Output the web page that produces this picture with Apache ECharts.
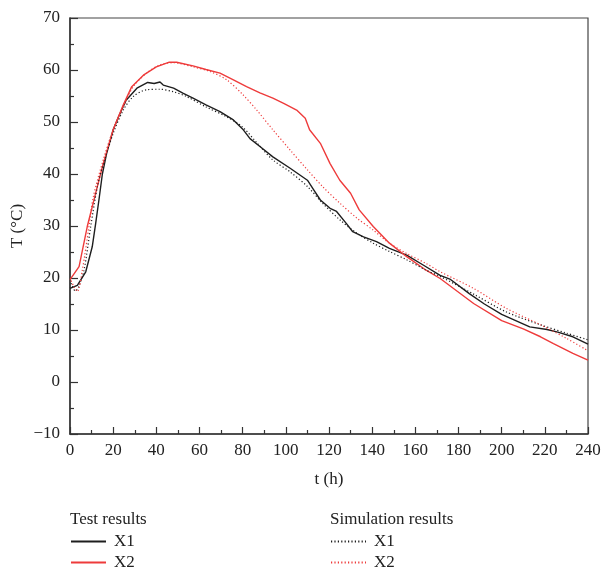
<!DOCTYPE html>
<html>
<head>
<meta charset="utf-8">
<script src="https://cdn.jsdelivr.net/npm/echarts@6/dist/echarts.min.js"></script>
<style>
  html, body { margin: 0; padding: 0; background: #fff; }
  #main { width: 602px; height: 571px; }
</style>
</head>
<body>
<div id="main"></div>
<script>
  // test results X1 (black solid)
  var testX1T = [0, 3.4, 7.3, 10.3, 11.9, 13.4, 15, 17, 20, 22.5, 26, 31, 36, 39, 41.7, 43.2, 48, 52.5, 57, 63, 69.5, 75.7, 80.3, 83.4, 88, 94, 102, 110, 113, 116, 120.5, 123.5, 128, 131, 136, 142, 148, 156, 164, 171.5, 176, 185, 192, 200, 213, 221, 226, 233, 240];
  var testX1 = [18.0, 18.6, 21.2, 26.0, 30.5, 35.0, 40.0, 44.0, 48.5, 51.0, 54.2, 56.5, 57.6, 57.4, 57.7, 57.1, 56.5, 55.5, 54.6, 53.3, 52.0, 50.4, 48.5, 46.8, 45.3, 43.3, 41.1, 38.8, 36.9, 35.0, 33.4, 32.8, 30.5, 28.9, 27.9, 27.0, 25.7, 24.4, 22.4, 20.5, 19.8, 17.0, 15.0, 13.0, 10.6, 10.1, 9.6, 8.7, 7.3];

  // test results X2 (red solid)
  var testX2T = [0, 4.2, 8.0, 11.1, 13.4, 15.4, 20, 24.7, 28.6, 34, 40, 46, 49.4, 57, 63, 69.5, 75.7, 81.8, 88, 94, 99, 105, 109, 111, 116, 120.5, 125, 130, 134, 140.5, 148, 156, 165, 171.5, 187, 200, 210, 218, 224, 233, 240];
  var testX2 = [19.7, 22.2, 29.9, 35.0, 38.8, 42.0, 48.5, 53.3, 56.8, 59.0, 60.6, 61.5, 61.5, 60.8, 60.1, 59.4, 58.1, 56.8, 55.6, 54.6, 53.6, 52.3, 50.7, 48.5, 45.9, 42.0, 38.8, 36.3, 33.1, 29.9, 26.7, 24.1, 21.5, 19.9, 15.1, 11.8, 10.2, 8.7, 7.4, 5.5, 4.2];

  // simulation results X1 (black dotted)
  var simX1T = [0.5, 2.5, 3.9, 6.5, 9.6, 12.7, 15.4, 20, 24.7, 29.3, 35.5, 41.7, 48, 54, 63, 72.6, 80, 87, 94, 102, 110, 117, 125, 133, 140.5, 148, 156, 165, 171.5, 187, 202, 218, 230, 240];
  var simX1 = [19.0, 17.5, 18.2, 21.5, 29.9, 37.6, 41.8, 47.8, 52.3, 54.9, 56.2, 56.3, 55.8, 54.9, 52.9, 51.0, 49.0, 45.8, 42.7, 40.4, 37.6, 34.4, 31.2, 28.6, 26.7, 25.1, 23.5, 21.5, 20.3, 16.9, 13.5, 11.0, 9.4, 8.1];

  // simulation results X2 (red dotted)
  var simX2T = [0.5, 1.9, 3.4, 5.7, 8.8, 10.8, 15.4, 20, 24.7, 29.3, 35.5, 41.7, 48, 57, 65, 72.6, 80, 86.5, 94, 102, 110, 117, 125, 133, 140.5, 148, 156, 165, 171.5, 187, 202, 218, 230, 240];
  var simX2 = [19.5, 18.3, 17.4, 21.5, 29.9, 35.6, 42.7, 48.5, 52.9, 56.8, 59.4, 61.0, 61.4, 60.6, 59.7, 58.1, 55.3, 52.3, 48.5, 44.6, 40.8, 37.6, 34.4, 31.5, 29.2, 26.7, 24.7, 22.8, 21.2, 18.0, 14.2, 11.0, 8.4, 6.0];

  var serif = '"Liberation Serif", "DejaVu Serif", serif';
  var black = '#1e1e1e';
  var red = '#ee3b3b';

  function pairs(ts, vs) {
    return ts.map(function (t, i) { return [t, vs[i]]; });
  }

  var myChart = echarts.init(document.getElementById('main'));

  var axisText = { color: '#222', fontFamily: serif, fontSize: 17 };

  // legend: no symbol in the middle of the line sample
  function legendBlock(names, left) {
    return {
      data: names,
      orient: 'vertical',
      left: left, top: 533,
      padding: 0,
      itemWidth: 35, itemHeight: 14, itemGap: 4,
      itemStyle: { color: 'rgba(0,0,0,0)', borderColor: 'rgba(0,0,0,0)', borderWidth: 0 },
      formatter: function (n) { return n.split(' ')[1]; },
      textStyle: Object.assign({ padding: [0, 0, 0, 3] }, axisText)
    };
  }

  var option = {
    animation: false,
    grid: {
      left: 70, top: 18, right: 14, bottom: 137,
      outerBoundsMode: 'none',
      containLabel: false,
      show: true, borderColor: '#444', borderWidth: 1.2
    },
    xAxis: {
      type: 'value',
      min: 0, max: 240, interval: 20,
      name: 't (h)',
      nameLocation: 'middle',
      nameGap: 37,
      nameMoveOverlap: false,
      nameTextStyle: axisText,
      axisLine: { show: true, onZero: false, lineStyle: { color: '#333', width: 1.5 } },
      axisTick: { show: true, inside: true, length: 7, lineStyle: { color: '#333', width: 1.2 } },
      minorTick: { show: true, splitNumber: 2, length: 4, lineStyle: { color: '#333', width: 1.2 } },
      axisLabel: Object.assign({ margin: 8 }, axisText),
      splitLine: { show: false }
    },
    yAxis: {
      type: 'value',
      min: -10, max: 70, interval: 10,
      name: 'T (°C)',
      nameLocation: 'middle',
      nameGap: 44,
      nameMoveOverlap: false,
      nameTextStyle: axisText,
      axisLine: { show: true, onZero: false, lineStyle: { color: '#333', width: 1.5 } },
      axisTick: { show: true, inside: true, length: 8, lineStyle: { color: '#333', width: 1.2 } },
      minorTick: { show: true, splitNumber: 2, length: 4, lineStyle: { color: '#333', width: 1.2 } },
      axisLabel: Object.assign({}, axisText, {
        margin: 10,
        formatter: function (v) { return v < 0 ? '\u2212' + (-v) : String(v); }
      }),
      splitLine: { show: false }
    },
    legend: [
      legendBlock(['Test X1', 'Test X2'], 70),
      legendBlock(['Sim X1', 'Sim X2'], 330)
    ],
    graphic: [
      { type: 'text', left: 70, top: 511, style: { text: 'Test results', fill: '#222', font: '17px ' + serif } },
      { type: 'text', left: 330, top: 511, style: { text: 'Simulation results', fill: '#222', font: '17px ' + serif } }
    ],
    series: [
      {
        name: 'Test X1', type: 'line', showSymbol: false, symbol: 'none',
        lineStyle: { color: black, width: 1.4 }, itemStyle: { color: black },
        data: pairs(testX1T, testX1)
      },
      {
        name: 'Test X2', type: 'line', showSymbol: false, symbol: 'none',
        lineStyle: { color: red, width: 1.4 }, itemStyle: { color: red },
        data: pairs(testX2T, testX2)
      },
      {
        name: 'Sim X1', type: 'line', showSymbol: false, symbol: 'none', smooth: 0.3,
        lineStyle: { color: black, width: 1.2, type: [1.2, 2.2] }, itemStyle: { color: black },
        data: pairs(simX1T, simX1)
      },
      {
        name: 'Sim X2', type: 'line', showSymbol: false, symbol: 'none', smooth: 0.3,
        lineStyle: { color: red, width: 1.2, type: [1.2, 2.2] }, itemStyle: { color: red },
        data: pairs(simX2T, simX2)
      }
    ]
  };

  myChart.setOption(option);
</script>
</body>
</html>
